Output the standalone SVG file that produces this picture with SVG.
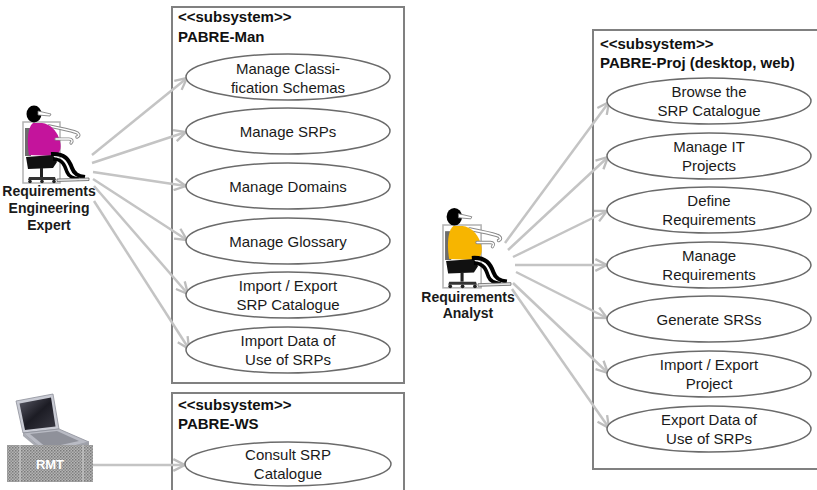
<svg xmlns="http://www.w3.org/2000/svg" xmlns:xlink="http://www.w3.org/1999/xlink" width="817" height="490" viewBox="0 0 817 490">
  <style>
    .box { fill: #fff; stroke: #808080; stroke-width: 2; }
    .uc ellipse { fill: #fff; stroke: #6b6b6b; stroke-width: 1.5; }
    .uc text { font-family: "Liberation Sans", Arial, sans-serif; font-size: 15px; fill: #1a1a1a; text-anchor: middle; }
    .hdr { font-family: "Liberation Sans", Arial, sans-serif; font-size: 15px; font-weight: bold; fill: #111; }
    .actor-label { font-family: "Liberation Sans", Arial, sans-serif; font-size: 14px; font-weight: bold; fill: #1a1a1a; text-anchor: middle; }
    .conn { stroke: #c4c4c4; stroke-width: 2.5; fill: none; marker-end: url(#open); }
  </style>
  <defs>
    <marker id="open" markerUnits="userSpaceOnUse" markerWidth="14" markerHeight="14" viewBox="0 0 12 12" refX="11" refY="6" orient="auto">
      <path d="M1,1 L11,6 L1,11" fill="none" stroke="#bdbdbd" stroke-width="2"/>
    </marker>
    <pattern id="mesh" width="3" height="3" patternUnits="userSpaceOnUse">
      <rect width="3" height="3" fill="#b4b4b4"/>
      <rect width="1.5" height="1.5" fill="#7a7a7a"/>
      <rect x="1.5" y="1.5" width="1.5" height="1.5" fill="#8c8c8c"/>
    </pattern>
    <linearGradient id="screen" x1="0" y1="0" x2="1" y2="1">
      <stop offset="0" stop-color="#5a5a66"/>
      <stop offset="0.5" stop-color="#1c1c24"/>
      <stop offset="1" stop-color="#3a3a44"/>
    </linearGradient>
    <!-- seated person at a desk chair; shirt colour comes from currentColor -->
    <g id="seated">
      <rect x="0" y="0" width="37" height="61" fill="none" stroke="#b3b3b3" stroke-width="1.5"/>
      <rect x="2" y="6" width="6" height="28" fill="#6d6d6d"/>
      <path d="M26,4 C36,6 46,8 52,10 C56,11 57,14 54,15" stroke="#8a8a8a" stroke-width="3.5" fill="none" stroke-linecap="round"/>
      <path d="M26,4 C36,6 46,8 52,10 C56,11 57,14 54,15" stroke="#fff" stroke-width="1.6" fill="none" stroke-linecap="round"/>
      <path d="M10,1 C4,6 4,22 6,33 L32,34 C38,31 39,24 36,16 C33,8 27,2 19,1 Z" fill="currentColor"/>
      <ellipse cx="11" cy="-8" rx="7.5" ry="8.5" fill="#000"/>
      <path d="M15,-11 L28,-8 L27,-6 L15,-7 Z" fill="#fff" stroke="#777" stroke-width="0.8"/>
      <path d="M33,17 L46,17 C49,17 50,19 48,21" stroke="#8a8a8a" stroke-width="3.2" fill="none" stroke-linecap="round"/>
      <path d="M33,17 L46,17 C49,17 50,19 48,21" stroke="#fff" stroke-width="1.4" fill="none" stroke-linecap="round"/>
      <path d="M3,35 L30,33 L34,40 L30,46 L5,47 Z" fill="#111"/>
      <path d="M28,32 C42,31 46,38 49,46 C51,52 55,54 62,55" stroke="#000" stroke-width="4" fill="none"/>
      <path d="M30,37 C40,37 42,44 44,50 C46,55 50,56 56,57" stroke="#000" stroke-width="3.5" fill="none"/>
      <rect x="17" y="46" width="3" height="9" fill="#222"/>
      <path d="M6,55 L32,55 L33,58 L5,58 Z" fill="#333"/>
      <circle cx="7" cy="59.5" r="1.8" fill="#222"/>
      <circle cx="19" cy="59.5" r="1.8" fill="#222"/>
      <circle cx="31" cy="59.5" r="1.8" fill="#222"/>
      <path d="M34,57 L66,56 L66,58.5 L34,59.5 Z" fill="#e6e6e6" stroke="#666" stroke-width="0.8"/>
    </g>
  </defs>

  <rect width="817" height="490" fill="#fff"/>

  <!-- subsystem frames -->
  <g id="pabre-man">
    <rect class="box" x="172" y="7" width="232" height="376"/>
    <text class="hdr" x="178" y="22">&lt;&lt;subsystem&gt;&gt;</text>
    <text class="hdr" x="178" y="42">PABRE-Man</text>
  </g>
  <g id="pabre-ws">
    <rect class="box" x="172" y="393" width="232" height="110"/>
    <text class="hdr" x="178" y="410">&lt;&lt;subsystem&gt;&gt;</text>
    <text class="hdr" x="178" y="429">PABRE-WS</text>
  </g>
  <g id="pabre-proj">
    <rect class="box" x="593" y="30" width="240" height="439"/>
    <text class="hdr" x="600" y="49">&lt;&lt;subsystem&gt;&gt;</text>
    <text class="hdr" x="600" y="68">PABRE-Proj (desktop, web)</text>
  </g>

  <!-- actors -->
  <g id="expert">
    <use xlink:href="#seated" transform="translate(23,122)" color="#c4149c"/>
    <text class="actor-label" x="49" y="196">Requirements</text>
    <text class="actor-label" x="49" y="213">Engineering</text>
    <text class="actor-label" x="49" y="230">Expert</text>
  </g>
  <g id="analyst">
    <use xlink:href="#seated" transform="translate(443,225) scale(1.03)" color="#f7b500"/>
    <text class="actor-label" x="468" y="302">Requirements</text>
    <text class="actor-label" x="468" y="318">Analyst</text>
  </g>
  <g id="rmt">
    <!-- laptop lid -->
    <path d="M16,401 L53,394 L59,429 L23,433 Z" fill="#c9cbd4" stroke="#8d8f99" stroke-width="0.8"/>
    <path d="M19.5,403.5 L51,397.5 L55.5,426.5 L25,430 Z" fill="url(#screen)"/>
    <!-- laptop base -->
    <path d="M23,433 L59,429 L89,442 L47,453 Z" fill="#b9bbc4" stroke="#8d8f99" stroke-width="0.8"/>
    <path d="M30,434 L57,431 L79,441 L47,448 Z" fill="#8f919a"/>
    <path d="M47,453 L89,442 L89,445 L47,456 Z" fill="#9ea0a8"/>
    <path d="M23,433 L47,453 L47,456 L23,436 Z" fill="#a8aab2"/>
    <!-- tool box -->
    <rect x="7" y="445" width="86" height="37" fill="url(#mesh)"/>
    <line x1="20" y1="445" x2="20" y2="482" stroke="#d0d0d0" stroke-width="1"/>
    <line x1="83" y1="445" x2="83" y2="482" stroke="#d0d0d0" stroke-width="1"/>
    <text x="50" y="469" font-family="Liberation Sans, Arial, sans-serif" font-size="13" font-weight="bold" fill="#fff" text-anchor="middle">RMT</text>
  </g>

  <!-- associations -->
  <g id="connectors">
    <path class="conn" d="M92,155 L187,78"/>
    <path class="conn" d="M92,163 L186,132"/>
    <path class="conn" d="M93,172 L186,186"/>
    <path class="conn" d="M93,179 L187,240"/>
    <path class="conn" d="M94,186 L188,294"/>
    <path class="conn" d="M94,201 L189,349"/>
    <path class="conn" d="M93,465 L185,465"/>
    <path class="conn" d="M505,243 L609,102"/>
    <path class="conn" d="M508,250 L608,157"/>
    <path class="conn" d="M513,257 L607,211"/>
    <path class="conn" d="M515,265 L607,265"/>
    <path class="conn" d="M516,272 L607,318"/>
    <path class="conn" d="M513,283 L608,373"/>
    <path class="conn" d="M512,289 L609,428"/>
  </g>

  <!-- use cases -->
  <g id="uc-classification" class="uc">
    <ellipse cx="288" cy="77" rx="102" ry="23"/>
    <text x="288" y="74">Manage Classi-</text>
    <text x="288" y="93">fication Schemas</text>
  </g>
  <g id="uc-srps" class="uc">
    <ellipse cx="288" cy="131" rx="102" ry="23"/>
    <text x="288" y="137">Manage SRPs</text>
  </g>
  <g id="uc-domains" class="uc">
    <ellipse cx="288" cy="186" rx="102" ry="23"/>
    <text x="288" y="192">Manage Domains</text>
  </g>
  <g id="uc-glossary" class="uc">
    <ellipse cx="288" cy="241" rx="102" ry="23"/>
    <text x="288" y="247">Manage Glossary</text>
  </g>
  <g id="uc-import-export-catalogue" class="uc">
    <ellipse cx="288" cy="295" rx="102" ry="23"/>
    <text x="288" y="291">Import / Export</text>
    <text x="288" y="310">SRP Catalogue</text>
  </g>
  <g id="uc-import-data" class="uc">
    <ellipse cx="288" cy="350" rx="102" ry="23"/>
    <text x="288" y="346">Import Data of</text>
    <text x="288" y="365">Use of SRPs</text>
  </g>
  <g id="uc-consult" class="uc">
    <ellipse cx="288" cy="464" rx="103" ry="22"/>
    <text x="288" y="460">Consult SRP</text>
    <text x="288" y="479">Catalogue</text>
  </g>
  <g id="uc-browse" class="uc">
    <ellipse cx="709" cy="101" rx="102" ry="23"/>
    <text x="709" y="97">Browse the</text>
    <text x="709" y="116">SRP Catalogue</text>
  </g>
  <g id="uc-it-projects" class="uc">
    <ellipse cx="709" cy="156" rx="102" ry="23"/>
    <text x="709" y="152">Manage IT</text>
    <text x="709" y="171">Projects</text>
  </g>
  <g id="uc-define" class="uc">
    <ellipse cx="709" cy="210" rx="102" ry="23"/>
    <text x="709" y="206">Define</text>
    <text x="709" y="225">Requirements</text>
  </g>
  <g id="uc-manage-req" class="uc">
    <ellipse cx="709" cy="265" rx="102" ry="23"/>
    <text x="709" y="261">Manage</text>
    <text x="709" y="280">Requirements</text>
  </g>
  <g id="uc-generate" class="uc">
    <ellipse cx="709" cy="319" rx="102" ry="23"/>
    <text x="709" y="325">Generate SRSs</text>
  </g>
  <g id="uc-import-export-project" class="uc">
    <ellipse cx="709" cy="374" rx="102" ry="23"/>
    <text x="709" y="370">Import / Export</text>
    <text x="709" y="389">Project</text>
  </g>
  <g id="uc-export-data" class="uc">
    <ellipse cx="709" cy="429" rx="102" ry="23"/>
    <text x="709" y="425">Export Data of</text>
    <text x="709" y="444">Use of SRPs</text>
  </g>
</svg>
